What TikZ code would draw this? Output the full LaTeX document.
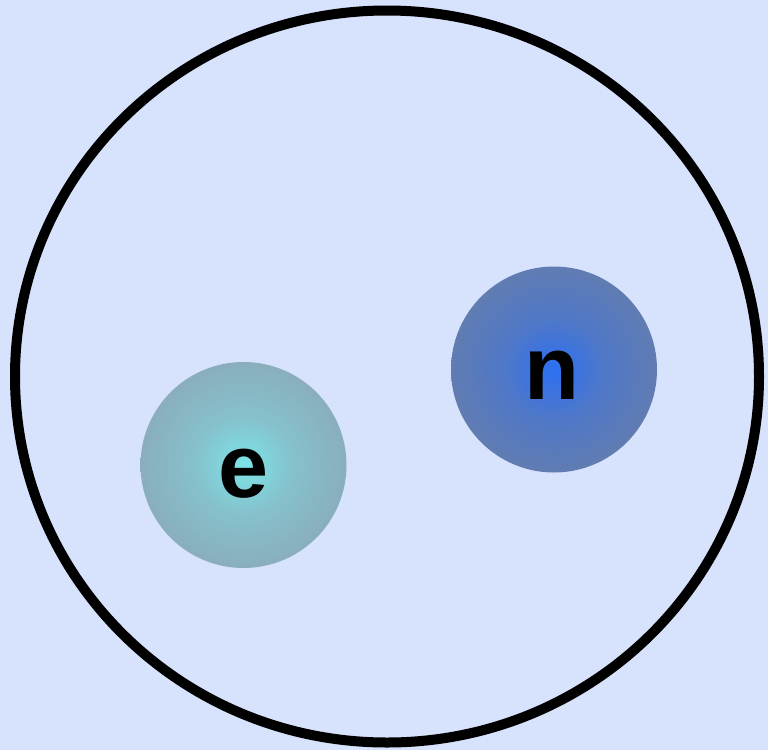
\documentclass[tikz,border=0pt]{standalone}
\usepackage{fontspec}
\setmainfont{Liberation Sans}
\definecolor{bg}{RGB}{215,226,252}
\definecolor{ecen}{RGB}{125,228,232}
\definecolor{eout}{RGB}{140,164,180}
\definecolor{ncen}{RGB}{45,112,242}
\definecolor{nout}{RGB}{106,126,166}
\colorlet{emid}{ecen!45!eout}
\colorlet{nmid}{ncen!45!nout}
\pgfdeclareradialshading{eshade}{\pgfpoint{0bp}{0bp}}{color(0bp)=(ecen); color(12bp)=(emid); color(32bp)=(eout); color(50bp)=(eout)}
\pgfdeclareradialshading{nshade}{\pgfpoint{0bp}{0bp}}{color(0bp)=(ncen); color(12bp)=(nmid); color(32bp)=(nout); color(50bp)=(nout)}
\tikzset{
  particle/.style={circle, inner sep=0pt, minimum size=206pt},
  plabel/.style={font=\bfseries\fontsize{90}{90}\selectfont, text=black, inner sep=0pt},
  atomring/.style={draw=black, line width=10pt}
}
\begin{document}
\begin{tikzpicture}[x=1pt,y=1pt]
\fill[bg] (0,0) rectangle (768,-750);
\useasboundingbox (0,0) rectangle (768,-750);
\draw[atomring] (387,-376.5) ellipse [x radius=372, y radius=366];
\node[particle, shading=eshade] (e) at (243.5,-465) {};
\node[particle, shading=nshade] (n) at (554,-369.5) {};
\node[plabel, anchor=base] (el) at ([yshift=-32pt]e.center) {e};
\node[plabel, anchor=base] (nl) at ([xshift=-2pt,yshift=-30pt]n.center) {n};
\end{tikzpicture}
\end{document}
